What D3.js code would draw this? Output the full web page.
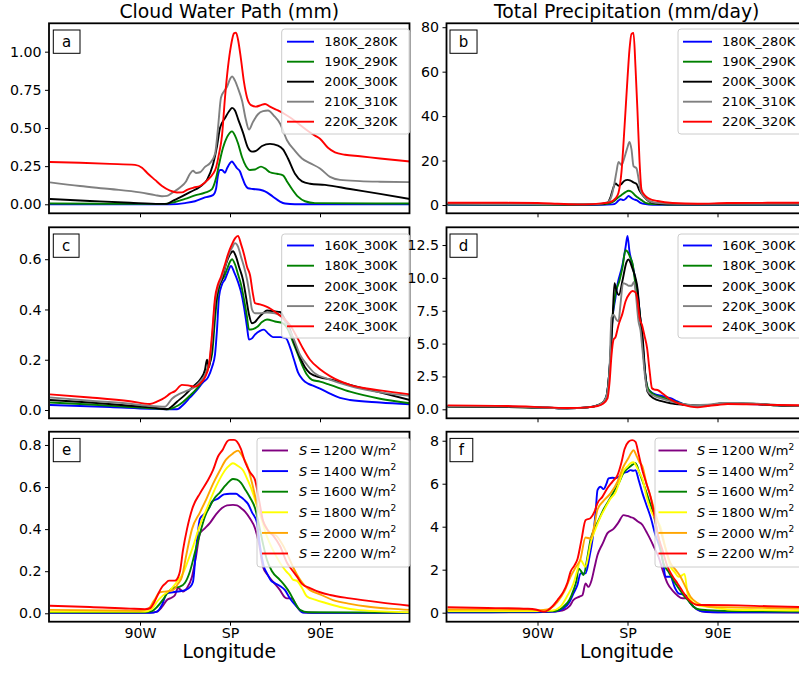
<!DOCTYPE html>
<html><head><meta charset="utf-8">
<script src="https://cdn.jsdelivr.net/npm/d3@7/dist/d3.min.js"></script>
<style>body{margin:0;background:#fff}svg{display:block}text{font-family:"DejaVu Sans",sans-serif;fill:#000}</style>
</head><body><svg id="c" width="799" height="673"></svg>
<script>
// ---------- DATA (longitude, value) ----------
const colTitles = ["Cloud Water Path (mm)", "Total Precipitation (mm/day)"];
const xLabel = "Longitude";
const xTickValues = [-90, 0, 90];
const xTickLabels = ["90W", "SP", "90E"];
const labelsRow1 = ["180K_280K", "190K_290K", "200K_300K", "210K_310K", "220K_320K"];
const labelsRow2 = ["160K_300K", "180K_300K", "200K_300K", "220K_300K", "240K_300K"];
const solarValues = ["1200", "1400", "1600", "1800", "2000", "2200"];
const colorsRow12 = ["blue", "green", "black", "gray", "red"];
const colorsRow3 = ["purple", "blue", "green", "yellow", "orange", "red"];
const yTicksA = [0, 0.25, 0.5, 0.75, 1.0];
const yTicksB = [0, 20, 40, 60, 80];
const yTicksC = [0, 0.2, 0.4, 0.6];
const yTicksD = [0, 2.5, 5, 7.5, 10, 12.5];
const yTicksE = [0, 0.2, 0.4, 0.6, 0.8];
const yTicksF = [0, 2, 4, 6, 8];

// Panel a: cloud water path
const aS1 = [[-180,0],[-60,0],[-45,0.008],[-35,0.02],[-25,0.045],[-17,0.06],[-14,0.1],[-12,0.19],[-10,0.225],[-8,0.225],[-5,0.207],[-3,0.235],[0,0.27],[2,0.28],[4,0.265],[7,0.236],[10,0.215],[12,0.18],[15,0.13],[18,0.105],[23,0.1],[30,0.095],[35,0.085],[43,0.05],[50,0.018],[55,0.005],[65,0],[180,0]];
const aS2 = [[-180,0.005],[-100,0.003],[-65,0.003],[-55,0.015],[-45,0.035],[-35,0.058],[-25,0.076],[-18,0.1],[-14,0.17],[-11,0.26],[-7,0.37],[-3,0.44],[0,0.47],[2,0.478],[5,0.45],[8,0.4],[12,0.31],[16,0.25],[20,0.225],[25,0.228],[31,0.247],[35,0.235],[40,0.21],[47,0.2],[53,0.19],[57,0.15],[62,0.1],[68,0.05],[75,0.02],[85,0.008],[180,0.005]];
const aS3 = [[-180,0.035],[-140,0.022],[-100,0.01],[-70,0.003],[-63,0.003],[-58,0.02],[-50,0.045],[-40,0.08],[-30,0.115],[-23,0.16],[-17,0.26],[-13,0.38],[-10,0.5],[-5,0.565],[0,0.618],[2,0.632],[5,0.615],[8,0.56],[13,0.47],[18,0.37],[22,0.345],[26,0.35],[32,0.382],[40,0.396],[48,0.385],[53,0.36],[58,0.3],[65,0.2],[72,0.15],[80,0.135],[95,0.127],[120,0.1],[150,0.068],[180,0.035]];
const aS4 = [[-180,0.144],[-150,0.12],[-120,0.1],[-90,0.078],[-75,0.06],[-68,0.053],[-63,0.055],[-58,0.075],[-50,0.11],[-44,0.15],[-40,0.2],[-37,0.22],[-34,0.205],[-30,0.21],[-25,0.245],[-20,0.27],[-15,0.33],[-12,0.5],[-9,0.7],[-6,0.74],[-3,0.77],[0,0.82],[2,0.838],[5,0.81],[8,0.76],[12,0.68],[16,0.55],[19,0.49],[23,0.54],[28,0.59],[33,0.61],[38,0.615],[44,0.58],[50,0.53],[57,0.42],[65,0.35],[72,0.3],[80,0.27],[90,0.235],[100,0.18],[110,0.16],[130,0.152],[150,0.148],[180,0.145]];
const aS5 = [[-180,0.277],[-150,0.272],[-120,0.265],[-95,0.258],[-88,0.24],[-82,0.2],[-75,0.16],[-68,0.12],[-60,0.09],[-53,0.077],[-48,0.078],[-43,0.095],[-36,0.11],[-30,0.12],[-23,0.155],[-17,0.2],[-14,0.24],[-11,0.33],[-8,0.45],[-5,0.7],[-2,0.9],[1,1.04],[4,1.12],[6,1.125],[8,1.08],[11,0.95],[14,0.8],[17,0.7],[21,0.65],[26,0.64],[31,0.65],[35,0.657],[40,0.64],[47,0.618],[55,0.59],[62,0.56],[70,0.52],[78,0.48],[85,0.45],[90,0.43],[98,0.37],[105,0.34],[115,0.325],[130,0.315],[150,0.3],[165,0.29],[180,0.28]];

// Panel b: precipitation
const bS1 = [[-180,0.1],[-100,0.1],[-60,0.05],[-25,0.1],[-15,0.3],[-12,0.7],[-9,2.0],[-7,2.6],[-4,2.2],[-1,3.2],[1,4.1],[3,3.5],[6,2.6],[9,2.2],[13,1.0],[18,0.4],[25,0.15],[60,0.1],[180,0.1]];
const bS2 = [[-180,0.2],[-100,0.2],[-60,0.1],[-25,0.3],[-18,0.8],[-14,1.6],[-10,3.2],[-6,4.5],[-2,5.8],[1,6.4],[4,6.0],[7,4.6],[10,3.5],[14,2.2],[18,1.0],[25,0.4],[40,0.25],[180,0.2]];
const bS3 = [[-180,0.4],[-100,0.35],[-60,0.2],[-30,0.3],[-20,1.0],[-17,3.5],[-14,8.0],[-12,9.7],[-9,8.7],[-6,9.5],[-3,10.9],[0,11.3],[3,11.0],[6,10.2],[9,9.5],[12,6.5],[15,4.5],[18,3.0],[22,1.5],[30,0.6],[50,0.3],[180,0.35]];
const bS4 = [[-180,0.5],[-100,0.45],[-60,0.3],[-30,0.4],[-20,1.2],[-16,4],[-13,10],[-11,15],[-9,19.4],[-6,18],[-4,20],[-2,23],[0,26],[2,28.4],[4,25],[6,17.5],[9,16.5],[11,12],[13,6.7],[17,3.5],[21,2.0],[28,1.0],[50,0.5],[180,0.5]];
const bS5 = [[-180,1.0],[-120,1.0],[-90,0.9],[-70,0.6],[-50,0.3],[-35,0.4],[-25,0.8],[-18,1.2],[-12,3],[-9,5.5],[-6,15],[-3,35],[0,57],[2,70],[4,77],[6,77.4],[8,62],[10,42],[12,20],[14,7],[17,4.5],[22,2.8],[30,1.8],[45,0.9],[70,0.6],[100,0.9],[140,1.0],[180,1.0]];

// Panel c: cloud water path
const cS1 = [[-180,0.02],[-120,0.012],[-80,0.005],[-60,0.003],[-53,0.003],[-47,0.02],[-40,0.05],[-33,0.08],[-27,0.11],[-22,0.13],[-18,0.17],[-15,0.22],[-13,0.32],[-11,0.45],[-8,0.5],[-5,0.52],[-2,0.55],[1,0.573],[4,0.55],[8,0.51],[11,0.47],[14,0.41],[17,0.33],[19,0.28],[22,0.285],[25,0.3],[30,0.315],[34,0.32],[38,0.305],[43,0.29],[50,0.29],[56,0.285],[60,0.25],[64,0.2],[68,0.15],[73,0.12],[78,0.105],[83,0.097],[90,0.085],[100,0.065],[110,0.048],[120,0.04],[150,0.03],[180,0.023]];
const cS2 = [[-180,0.03],[-140,0.022],[-100,0.012],[-78,0.007],[-62,0.003],[-55,0.012],[-50,0.023],[-42,0.05],[-33,0.086],[-27,0.12],[-22,0.17],[-18,0.22],[-15,0.36],[-13,0.44],[-10,0.5],[-6,0.53],[-3,0.56],[0,0.59],[2,0.6],[5,0.58],[8,0.54],[11,0.5],[14,0.44],[17,0.37],[19,0.32],[23,0.322],[27,0.33],[32,0.35],[37,0.36],[45,0.352],[53,0.345],[58,0.32],[63,0.27],[67,0.23],[72,0.18],[77,0.14],[82,0.12],[90,0.113],[100,0.1],[120,0.073],[150,0.045],[180,0.027]];
const cS3 = [[-180,0.04],[-140,0.03],[-100,0.017],[-78,0.01],[-63,0.003],[-58,0.015],[-53,0.033],[-45,0.06],[-37,0.093],[-30,0.12],[-25,0.16],[-23,0.2],[-21,0.17],[-18,0.25],[-15,0.4],[-12,0.48],[-8,0.52],[-4,0.58],[0,0.62],[3,0.632],[6,0.61],[9,0.57],[13,0.518],[16,0.45],[19,0.38],[22,0.345],[25,0.35],[28,0.365],[33,0.385],[37,0.396],[45,0.392],[50,0.39],[55,0.36],[60,0.32],[65,0.26],[70,0.21],[75,0.17],[80,0.146],[90,0.13],[100,0.122],[120,0.1],[150,0.07],[180,0.04]];
const cS4 = [[-180,0.05],[-140,0.037],[-100,0.025],[-80,0.016],[-65,0.013],[-58,0.045],[-50,0.065],[-43,0.077],[-36,0.09],[-30,0.113],[-25,0.14],[-21,0.18],[-18,0.28],[-15,0.43],[-12,0.49],[-9,0.52],[-5,0.57],[-2,0.61],[2,0.645],[5,0.664],[8,0.65],[11,0.61],[14,0.57],[17,0.52],[20,0.45],[22,0.4],[25,0.385],[30,0.385],[37,0.388],[45,0.385],[52,0.37],[58,0.33],[64,0.28],[70,0.22],[77,0.18],[85,0.145],[97,0.125],[120,0.095],[150,0.07],[180,0.056]];
const cS5 = [[-180,0.062],[-140,0.05],[-100,0.035],[-80,0.024],[-72,0.035],[-65,0.05],[-60,0.065],[-55,0.075],[-48,0.1],[-42,0.098],[-35,0.093],[-30,0.105],[-25,0.13],[-21,0.18],[-18,0.3],[-15,0.445],[-12,0.5],[-9,0.53],[-5,0.58],[-2,0.62],[2,0.66],[5,0.683],[8,0.693],[11,0.66],[14,0.62],[17,0.57],[20,0.537],[23,0.46],[25,0.425],[30,0.42],[37,0.41],[47,0.385],[55,0.36],[60,0.338],[67,0.29],[73,0.245],[80,0.2],[90,0.162],[100,0.135],[120,0.1],[150,0.078],[180,0.062]];

// Panel d: precipitation
const dS1 = [[-180,0.22],[-120,0.2],[-80,0.12],[-60,0.08],[-40,0.15],[-30,0.3],[-25,0.45],[-21,1.0],[-18,3],[-15,6.9],[-12,8.5],[-10,9.5],[-5,11],[-2,12.3],[0,13.2],[2,12],[5,11],[8,9.8],[10,9],[12,7.5],[15,5.1],[18,2.5],[20,1.6],[26,1.2],[35,1.0],[43,0.84],[50,0.6],[56,0.4],[65,0.3],[80,0.3],[95,0.42],[110,0.42],[130,0.38],[150,0.3],[180,0.22]];
const dS2 = [[-180,0.2],[-120,0.18],[-80,0.12],[-60,0.08],[-40,0.15],[-30,0.3],[-25,0.5],[-21,1.0],[-18,3],[-15,7],[-12,8.8],[-8,9.8],[-5,10.8],[-2,12.1],[0,12.0],[3,11.5],[5,11.1],[8,9.5],[10,8.7],[12,7.5],[15,5.0],[18,2.5],[21,1.5],[27,1.1],[35,0.9],[43,0.7],[55,0.4],[65,0.3],[80,0.3],[95,0.45],[110,0.45],[130,0.4],[150,0.3],[180,0.22]];
const dS3 = [[-180,0.2],[-120,0.18],[-80,0.12],[-60,0.08],[-40,0.15],[-30,0.3],[-25,0.5],[-21,1.0],[-18,3],[-15,6.7],[-13,9.6],[-11,9.0],[-8.6,8.7],[-5,9.8],[-1,11.2],[1,11.4],[5,10.7],[8,10.0],[10,9.2],[12,7.5],[15,5.6],[18,2.5],[20,1.34],[26,0.84],[35,0.6],[43,0.46],[55,0.35],[65,0.3],[80,0.3],[95,0.45],[110,0.45],[130,0.4],[150,0.3],[180,0.22]];
const dS4 = [[-180,0.22],[-120,0.2],[-80,0.12],[-60,0.08],[-40,0.15],[-30,0.3],[-25,0.5],[-21,1.0],[-18,3],[-16,7.0],[-14,7.2],[-11,6.8],[-9,6.7],[-7,8.0],[-4.5,9.6],[-1,9.5],[1.3,9.4],[4,9.4],[6.4,9.7],[8,9.0],[11,6.7],[13,6.0],[15,4.5],[18,2.2],[21,1.3],[27,1.0],[35,0.8],[43,0.6],[55,0.4],[65,0.32],[80,0.35],[95,0.48],[110,0.48],[130,0.42],[150,0.33],[180,0.25]];
const dS5 = [[-180,0.3],[-120,0.25],[-80,0.15],[-60,0.1],[-40,0.15],[-30,0.25],[-25,0.4],[-20,0.84],[-18,2.0],[-16,4.1],[-14,5.3],[-12,5.5],[-9,6.4],[-5,7.3],[-2,8.2],[2,8.8],[5,9.0],[8,8.9],[10,8.3],[12,7.0],[14.6,6.4],[17,5.6],[19.7,4.6],[22,3.0],[24.5,1.6],[27,1.5],[30,1.47],[35,1.2],[41,0.84],[48,0.55],[56,0.33],[63,0.2],[70,0.15],[80,0.25],[90,0.33],[100,0.4],[120,0.38],[150,0.33],[180,0.3]];

// Panel e: cloud water path vs solar constant
const eS1 = [[-180,0.003],[-100,0.002],[-80,0.003],[-73,0.008],[-68,0.03],[-63,0.063],[-58,0.075],[-55,0.087],[-52,0.12],[-49,0.11],[-47,0.103],[-43,0.12],[-38,0.174],[-34,0.27],[-30,0.38],[-26,0.4],[-20,0.43],[-14,0.47],[-8,0.5],[-3,0.513],[3,0.515],[7,0.513],[11,0.5],[15,0.483],[20,0.45],[25,0.404],[29,0.33],[33,0.22],[38,0.18],[43,0.15],[50,0.11],[55,0.075],[57,0.071],[62,0.071],[67,0.03],[73,0.005],[90,0.002],[180,0.002]];
const eS2 = [[-180,0.002],[-80,0.002],[-73,0.008],[-68,0.04],[-63,0.095],[-57,0.1],[-50,0.105],[-45,0.11],[-40,0.125],[-37,0.15],[-34,0.3],[-30,0.45],[-25,0.475],[-21,0.5],[-18,0.53],[-12,0.545],[-6,0.565],[0,0.568],[6,0.568],[10,0.555],[14,0.54],[18,0.52],[22,0.48],[27,0.43],[30,0.32],[34,0.22],[37,0.19],[41,0.155],[45,0.143],[50,0.13],[55,0.11],[60,0.07],[67,0.03],[73,0.003],[90,0.002],[180,0.002]];
const eS3 = [[-180,0.005],[-85,0.005],[-78,0.01],[-73,0.03],[-67,0.065],[-62,0.1],[-57,0.12],[-50,0.127],[-45,0.145],[-40,0.2],[-35,0.29],[-30,0.38],[-25,0.46],[-20,0.51],[-15,0.55],[-10,0.575],[-5,0.605],[0,0.63],[3,0.638],[7,0.635],[11,0.62],[15,0.59],[20,0.55],[25,0.5],[29,0.42],[33,0.33],[37,0.253],[42,0.2],[50,0.158],[55,0.13],[60,0.095],[65,0.05],[70,0.016],[78,0.005],[180,0.003]];
const eS4 = [[-180,0.008],[-85,0.008],[-78,0.02],[-73,0.055],[-67,0.085],[-60,0.11],[-53,0.15],[-47,0.19],[-42,0.25],[-37,0.317],[-30,0.42],[-23,0.5],[-17,0.57],[-10,0.64],[-5,0.68],[0,0.705],[3,0.713],[8,0.7],[13,0.68],[18,0.63],[23,0.57],[27,0.51],[32,0.44],[37,0.364],[43,0.3],[50,0.24],[56,0.2],[60,0.18],[63,0.16],[67,0.154],[72,0.12],[77,0.08],[85,0.065],[95,0.05],[110,0.03],[130,0.015],[180,0.005]];
const eS5 = [[-180,0.016],[-90,0.012],[-82,0.02],[-76,0.06],[-70,0.1],[-62,0.105],[-57,0.11],[-52,0.14],[-48,0.174],[-44,0.27],[-38,0.4],[-30,0.48],[-23,0.55],[-17,0.615],[-10,0.68],[-4,0.73],[3,0.76],[8,0.773],[12,0.75],[17,0.705],[22,0.62],[27,0.52],[32,0.45],[36,0.41],[40,0.38],[46,0.37],[52,0.33],[57,0.285],[63,0.22],[70,0.16],[75,0.13],[80,0.11],[90,0.09],[103,0.063],[120,0.045],[137,0.032],[160,0.022],[180,0.016]];
const eS6 = [[-180,0.036],[-140,0.03],[-100,0.022],[-85,0.02],[-80,0.024],[-76,0.05],[-72,0.09],[-68,0.125],[-65,0.14],[-61,0.155],[-55,0.155],[-52,0.17],[-50,0.2],[-47,0.3],[-43,0.4],[-37,0.507],[-30,0.57],[-23,0.625],[-17,0.68],[-12,0.745],[-7,0.78],[-3,0.816],[0,0.824],[4,0.824],[7,0.816],[11,0.78],[15,0.72],[20,0.67],[25,0.634],[29,0.54],[33,0.44],[37,0.4],[43,0.37],[50,0.32],[57,0.24],[63,0.2],[67,0.174],[72,0.14],[80,0.12],[90,0.1],[100,0.087],[120,0.071],[150,0.052],[180,0.036]];

// Panel f: precipitation vs solar constant
const fS1 = [[-180,0.02],[-100,0.02],[-85,0.03],[-75,0.05],[-68,0.08],[-64,0.12],[-58,0.3],[-54,0.59],[-48,0.75],[-45,0.82],[-42,1.36],[-39,1.2],[-36,1.5],[-33,2.1],[-30,2.68],[-25,3.2],[-20,3.7],[-14,3.9],[-9,4.2],[-4,4.54],[0,4.5],[3,4.45],[6,4.4],[10,4.25],[15,4.08],[19,3.75],[23,3.4],[27,3.0],[31,2.6],[35,2.0],[40,1.36],[46,0.98],[50,0.8],[55,0.67],[60,0.67],[63,0.45],[66,0.28],[73,0.08],[85,0.02],[180,0.01]];
const fS2 = [[-180,0.02],[-85,0.03],[-72,0.05],[-64,0.2],[-58,0.5],[-54,0.9],[-50,1.3],[-47,1.83],[-42,1.83],[-38,2.6],[-35,3.4],[-32,4.6],[-30,5.7],[-27,5.86],[-24,5.75],[-21,6.0],[-19,6.25],[-15,6.28],[-12,6.25],[-8,6.35],[-4,6.5],[0,6.55],[3,6.63],[6,6.6],[8,6.63],[11,6.2],[15,5.55],[19,5.0],[23,4.46],[28,3.6],[33,2.9],[36,2.2],[38,1.67],[43,1.67],[47,1.2],[51,0.9],[55,0.85],[58,0.82],[62,0.5],[66,0.28],[72,0.1],[76,0.05],[90,0.02],[180,0.02]];
const fS3 = [[-180,0.05],[-85,0.06],[-72,0.08],[-64,0.28],[-58,0.6],[-54,1.05],[-51,1.5],[-49,2.06],[-46,1.9],[-44,1.75],[-40,2.6],[-37,3.4],[-32,4.0],[-28,4.4],[-24,4.8],[-19,5.2],[-14,5.6],[-9,6.0],[-4,6.5],[0,6.7],[4,6.85],[8,6.95],[12,6.5],[16,6.0],[21,5.3],[26,4.6],[31,3.5],[36,2.3],[41,1.9],[46,1.5],[51,1.15],[56,0.82],[61,0.55],[66,0.28],[72,0.15],[80,0.12],[100,0.08],[180,0.05]];
const fS4 = [[-180,0.08],[-85,0.08],[-75,0.1],[-67,0.28],[-60,0.8],[-54,1.36],[-50,2.0],[-47,2.45],[-42,2.14],[-39,2.7],[-37,3.2],[-32,3.9],[-27,4.46],[-22,4.9],[-17,5.3],[-12,5.6],[-8,6.1],[-4,6.6],[0,6.8],[3,6.95],[6,7.0],[9,6.8],[12,6.5],[15,6.2],[19,5.4],[23,4.8],[25,4.6],[29,4.3],[33,4.0],[38,3.0],[43,2.14],[47,1.9],[51,1.67],[55,1.75],[57,1.8],[60,0.9],[63,0.6],[70,0.35],[80,0.28],[100,0.15],[130,0.12],[180,0.1]];
const fS5 = [[-180,0.15],[-100,0.14],[-88,0.12],[-80,0.15],[-70,0.5],[-63,1.0],[-57,1.67],[-52,2.1],[-47,2.5],[-42,3.5],[-37,3.45],[-33,4.1],[-30,4.8],[-24,5.2],[-17,5.55],[-10,6.1],[-4,6.8],[1,7.2],[4,7.45],[6,7.56],[9,7.3],[12,7.0],[15,6.8],[19,6.0],[23,5.4],[28,4.6],[33,3.84],[38,3.0],[43,2.3],[48,2.0],[53,1.67],[58,1.2],[63,0.74],[70,0.45],[80,0.28],[100,0.25],[140,0.22],[180,0.18]];
const fS6 = [[-180,0.25],[-140,0.22],[-100,0.18],[-92,0.15],[-87,0.08],[-83,0.05],[-80,0.1],[-75,0.3],[-70,0.59],[-65,0.9],[-60,1.4],[-57,1.9],[-53,2.2],[-50,2.5],[-46,3.4],[-42,4.3],[-37,4.4],[-33,4.7],[-30,5.1],[-25,5.4],[-20,5.8],[-15,6.1],[-10,6.4],[-6,7.0],[-3,7.6],[1,7.95],[4.7,8.03],[8,7.95],[11,7.4],[15,6.6],[19,6.0],[23,5.4],[27,4.5],[30,3.7],[35,2.9],[40,2.14],[45,1.7],[50,1.36],[55,1.0],[60,0.66],[65,0.45],[70,0.36],[80,0.36],[100,0.35],[140,0.3],[180,0.25]];

// ---------- LAYOUT ----------
const svg = d3.select("#c");
const colX = [[49, 409.5], [446.5, 807]];
const rowY = [[23.3, 213.3], [227.3, 418.3], [431.7, 621.7]];
const lonDomain = [-181, 179.5];

const panels = [
  {letter:"a", col:0, row:0, yDom:[-0.059,1.186], ticks:yTicksA, fmt:".2f", series:[aS1,aS2,aS3,aS4,aS5], colors:colorsRow12, labels:labelsRow1, leg:{x:281.7,y:29,w:128,h:105,r0:41.7,step:20,l0:5.3,l1:32.3,t:42.5}},
  {letter:"b", col:1, row:0, yDom:[-3.72,81.76], ticks:yTicksB, fmt:"d", series:[bS1,bS2,bS3,bS4,bS5], colors:colorsRow12, labels:labelsRow1, leg:{x:678,y:29,w:130,h:105,r0:41.7,step:20,l0:5,l1:34,t:44}},
  {letter:"c", col:0, row:1, yDom:[-0.033,0.727], ticks:yTicksC, fmt:".1f", series:[cS1,cS2,cS3,cS4,cS5], colors:colorsRow12, labels:labelsRow2, leg:{x:281.7,y:234,w:128,h:104,r0:245.5,step:20.2,l0:5.3,l1:32.3,t:42.5}},
  {letter:"d", col:1, row:1, yDom:[-0.685,13.85], ticks:yTicksD, fmt:".1f", series:[dS1,dS2,dS3,dS4,dS5], colors:colorsRow12, labels:labelsRow2, leg:{x:678,y:234,w:130,h:104,r0:245.5,step:20.2,l0:5,l1:34,t:44}},
  {letter:"e", col:0, row:2, yDom:[-0.04,0.863], ticks:yTicksE, fmt:".1f", series:[eS1,eS2,eS3,eS4,eS5,eS6], colors:colorsRow3, labels:solarValues, solar:true, leg:{x:257,y:438,w:153,h:129,r0:450.5,step:20.6,l0:5,l1:31,t:42}},
  {letter:"f", col:1, row:2, yDom:[-0.42,8.42], ticks:yTicksF, fmt:"d", series:[fS1,fS2,fS3,fS4,fS5,fS6], colors:colorsRow3, labels:solarValues, solar:true, leg:{x:655,y:438,w:160,h:129,r0:450.5,step:20.6,l0:3.5,l1:32,t:42}}
];

const defs = svg.append("defs");

panels.forEach((p, i) => {
  const [x0, x1] = colX[p.col], [y0, y1] = rowY[p.row];
  const x = d3.scaleLinear().domain(lonDomain).range([x0, x1]);
  const y = d3.scaleLinear().domain(p.yDom).range([y1, y0]);
  const g = svg.append("g");

  defs.append("clipPath").attr("id", "clip" + i)
    .append("rect").attr("x", x0).attr("y", y0).attr("width", x1 - x0).attr("height", y1 - y0);

  const line = d3.line().x(d => x(d[0])).y(d => y(d[1])).curve(d3.curveMonotoneX);
  const lg = g.append("g").attr("clip-path", `url(#clip${i})`);
  p.series.forEach((s, k) => {
    lg.append("path").attr("d", line(s)).attr("fill", "none")
      .attr("stroke", p.colors[k]).attr("stroke-width", 1.9).attr("stroke-linejoin", "round");
  });

  const yAxis = d3.axisLeft(y).tickValues(p.ticks).tickFormat(d3.format(p.fmt)).tickSize(4).tickPadding(3.5);
  const ya = g.append("g").attr("transform", `translate(${x0},0)`).call(yAxis);
  ya.select(".domain").remove();
  ya.selectAll("line").attr("stroke", "#000").attr("stroke-width", 1);
  ya.selectAll("text").attr("font-size", "14.2px").attr("font-family", "DejaVu Sans");

  const xAxis = d3.axisBottom(x).tickValues(xTickValues).tickSize(4).tickPadding(2.5)
    .tickFormat((d, j) => p.row === 2 ? xTickLabels[j] : "");
  const xa = g.append("g").attr("transform", `translate(0,${y1})`).call(xAxis);
  xa.select(".domain").remove();
  xa.selectAll("line").attr("stroke", "#000").attr("stroke-width", 1);
  xa.selectAll("text").attr("font-size", "14.2px").attr("font-family", "DejaVu Sans");

  g.append("rect").attr("x", x0).attr("y", y0).attr("width", x1 - x0).attr("height", y1 - y0)
    .attr("fill", "none").attr("stroke", "#000").attr("stroke-width", 1.8);

  // panel letter box
  const lbX = (p.col === 0 ? 53.3 : 450), lbY = y0 + 6.7;
  const lbRect = g.append("rect");
  const lbText = g.append("text").attr("font-size", "15px").attr("y", lbY + 11.7).attr("dy", "0.35em")
    .attr("text-anchor", "middle").text(p.letter);
  const tw = lbText.node().getComputedTextLength();
  const bw = tw + 17.5;
  lbText.attr("x", lbX + bw / 2);
  lbRect.attr("x", lbX).attr("y", lbY).attr("width", bw).attr("height", 23.3)
    .attr("fill", "#fff").attr("stroke", "#000").attr("stroke-width", 1);

  // legend
  const L = p.leg;
  const leg = g.append("g");
  leg.append("rect").attr("x", L.x).attr("y", L.y).attr("width", L.w).attr("height", L.h)
    .attr("rx", 3).attr("fill", "#fff").attr("fill-opacity", 0.8).attr("stroke", "#cccccc").attr("stroke-width", 1);
  p.labels.forEach((lab, k) => {
    const ry = L.r0 + k * L.step;
    leg.append("line").attr("x1", L.x + L.l0).attr("x2", L.x + L.l1).attr("y1", ry).attr("y2", ry)
      .attr("stroke", p.colors[k]).attr("stroke-width", 1.9);
    const t = leg.append("text").attr("x", L.x + L.t).attr("y", ry).attr("dy", "0.36em").attr("font-size", "13px");
    if (p.solar) {
      t.append("tspan").attr("font-style", "italic").text("S");
      t.append("tspan").text("\u2009=\u2009" + lab + " W/m");
      t.append("tspan").attr("font-size", "9px").attr("dy", "-5.5").text("2");
    } else {
      t.text(lab);
    }
  });
});

colTitles.forEach((t, c) => {
  const cx = (colX[c][0] + colX[c][1]) / 2;
  svg.append("text").attr("x", cx).attr("y", 18.3).attr("text-anchor", "middle")
    .attr("font-size", "18.8px").text(t);
  svg.append("text").attr("x", cx).attr("y", 657.5).attr("text-anchor", "middle")
    .attr("font-size", "18.8px").text(xLabel);
});
</script></body></html>
